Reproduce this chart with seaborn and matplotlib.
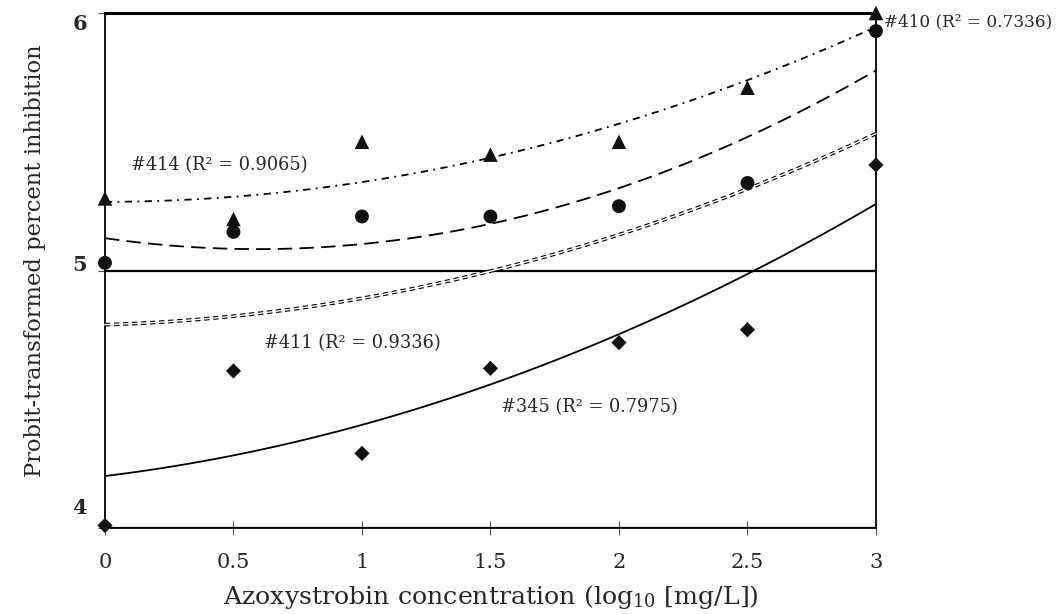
import matplotlib
matplotlib.use('Agg')
import matplotlib.pyplot as plt
import matplotlib.transforms as mtransforms
import seaborn as sns

# log10 concentrations used on the x axis
conc = [0, 0.5, 1, 1.5, 2, 2.5, 3]
tick_labels = ['0', '0.5', '1', '1.5', '2', '2.5', '3']

# probit-transformed inhibition, one list per isolate
pts_414 = [5.28, 5.20, 5.50, 5.45, 5.50, 5.71, 6.00]   # triangles
pts_410 = [5.03, 5.15, 5.21, 5.21, 5.25, 5.34, 5.93]   # circles
pts_345 = [4.01, 4.61, 4.29, 4.62, 4.72, 4.77, 5.41]   # diamonds

# polynomial trendlines, values at each concentration
trend_414 = [5.27, 5.28, 5.34, 5.45, 5.57, 5.73, 5.95]
trend_410 = [5.13, 5.08, 5.10, 5.18, 5.32, 5.53, 5.77]
trend_411 = [4.79, 4.82, 4.90, 4.99, 5.14, 5.32, 5.53]
trend_345 = [4.20, 4.28, 4.41, 4.56, 4.74, 4.99, 5.26]

lab_414 = '#414 (R² = 0.9065)'
lab_411 = '#411 (R² = 0.9336)'
lab_345 = '#345 (R² = 0.7975)'
lab_410 = '#410 (R² = 0.7336)'

sns.set_style('white')
plt.rcParams['font.family'] = ['DejaVu Serif']
plt.rcParams['mathtext.fontset'] = 'dejavuserif'
plt.rcParams['mathtext.default'] = 'regular'

fig = plt.figure(figsize=(10.56, 6.14), dpi=100)
ax = fig.add_axes([0.0994, 0.140, 0.7301, 0.8388])

# trendlines (2nd order fits)
sns.regplot(x=conc, y=trend_414, order=2, ci=None, scatter=False, ax=ax,
            line_kws=dict(color='black', lw=1.3, ls=(0, (4, 3, 1, 3))))
sns.regplot(x=conc, y=trend_410, order=2, ci=None, scatter=False, ax=ax,
            line_kws=dict(color='black', lw=1.3, ls=(0, (8, 4))))
sns.regplot(x=conc, y=trend_411, order=2, ci=None, scatter=False, ax=ax,
            line_kws=dict(color='black', lw=2.6, ls=(0, (1.5, 1))))
sns.regplot(x=conc, y=trend_411, order=2, ci=None, scatter=False, ax=ax,
            line_kws=dict(color='white', lw=1.0, zorder=3, clip_on=False,
                          solid_capstyle='projecting'))
sns.regplot(x=conc, y=trend_345, order=2, ci=None, scatter=False, ax=ax,
            line_kws=dict(color='black', lw=1.3))

# data points
mk = dict(color='#111111', edgecolor='none', clip_on=False, zorder=5, ax=ax)
sns.scatterplot(x=conc, y=pts_414, marker='^', s=110, **mk)
sns.scatterplot(x=conc, y=pts_410, marker='o', s=100, **mk)
sns.scatterplot(x=conc, y=pts_345, marker='D', s=60, **mk)

ax.set_xlim(0, 3)
ax.set_ylim(4, 6)
ax.set_xticks(conc)
ax.set_xticklabels(tick_labels)
ax.set_yticks([4, 5, 6])
ax.set_yticklabels(['4', '5', '6'], fontweight='bold')
ax.grid(axis='y', color='black', lw=1.6)
ax.grid(axis='x', visible=False)

for side in ['left', 'right', 'bottom']:
    ax.spines[side].set_color('black')
    ax.spines[side].set_linewidth(1.3)
ax.spines['top'].set_color('black')
ax.spines['top'].set_linewidth(2.2)

ax.tick_params(axis='x', direction='inout', length=10, width=0.8, color='#555555',
               pad=13, labelsize=15, bottom=True)
ax.tick_params(axis='y', direction='out', length=5, width=0.8, color='#555555',
               pad=8, labelsize=15, left=True)

# the y labels sit a little off their gridlines in the original
for lab, dy in zip(ax.get_yticklabels(), [22, 8, -9]):
    lab.set_transform(lab.get_transform() +
                      mtransforms.ScaledTranslation(0, dy / 100, fig.dpi_scale_trans))

ax.text(0.10, 5.41, lab_414, fontsize=12.8, va='center')
ax.text(0.62, 4.72, lab_411, fontsize=12.8, va='center')
ax.text(1.54, 4.47, lab_345, fontsize=12.8, va='center')
ax.text(3.033, 5.965, lab_410, fontsize=12.2, va='center', clip_on=False)

ax.set_xlabel('Azoxystrobin concentration (log$_{10}$ [mg/L])', fontsize=18.2, va='center')
ax.set_ylabel('Probit-transformed percent inhibition', fontsize=16.3, va='center')
ax.xaxis.set_label_coords(0.5, -0.134)
ax.yaxis.set_label_coords(-0.0908, 0.52)

fig.savefig('out.png', dpi=100)
